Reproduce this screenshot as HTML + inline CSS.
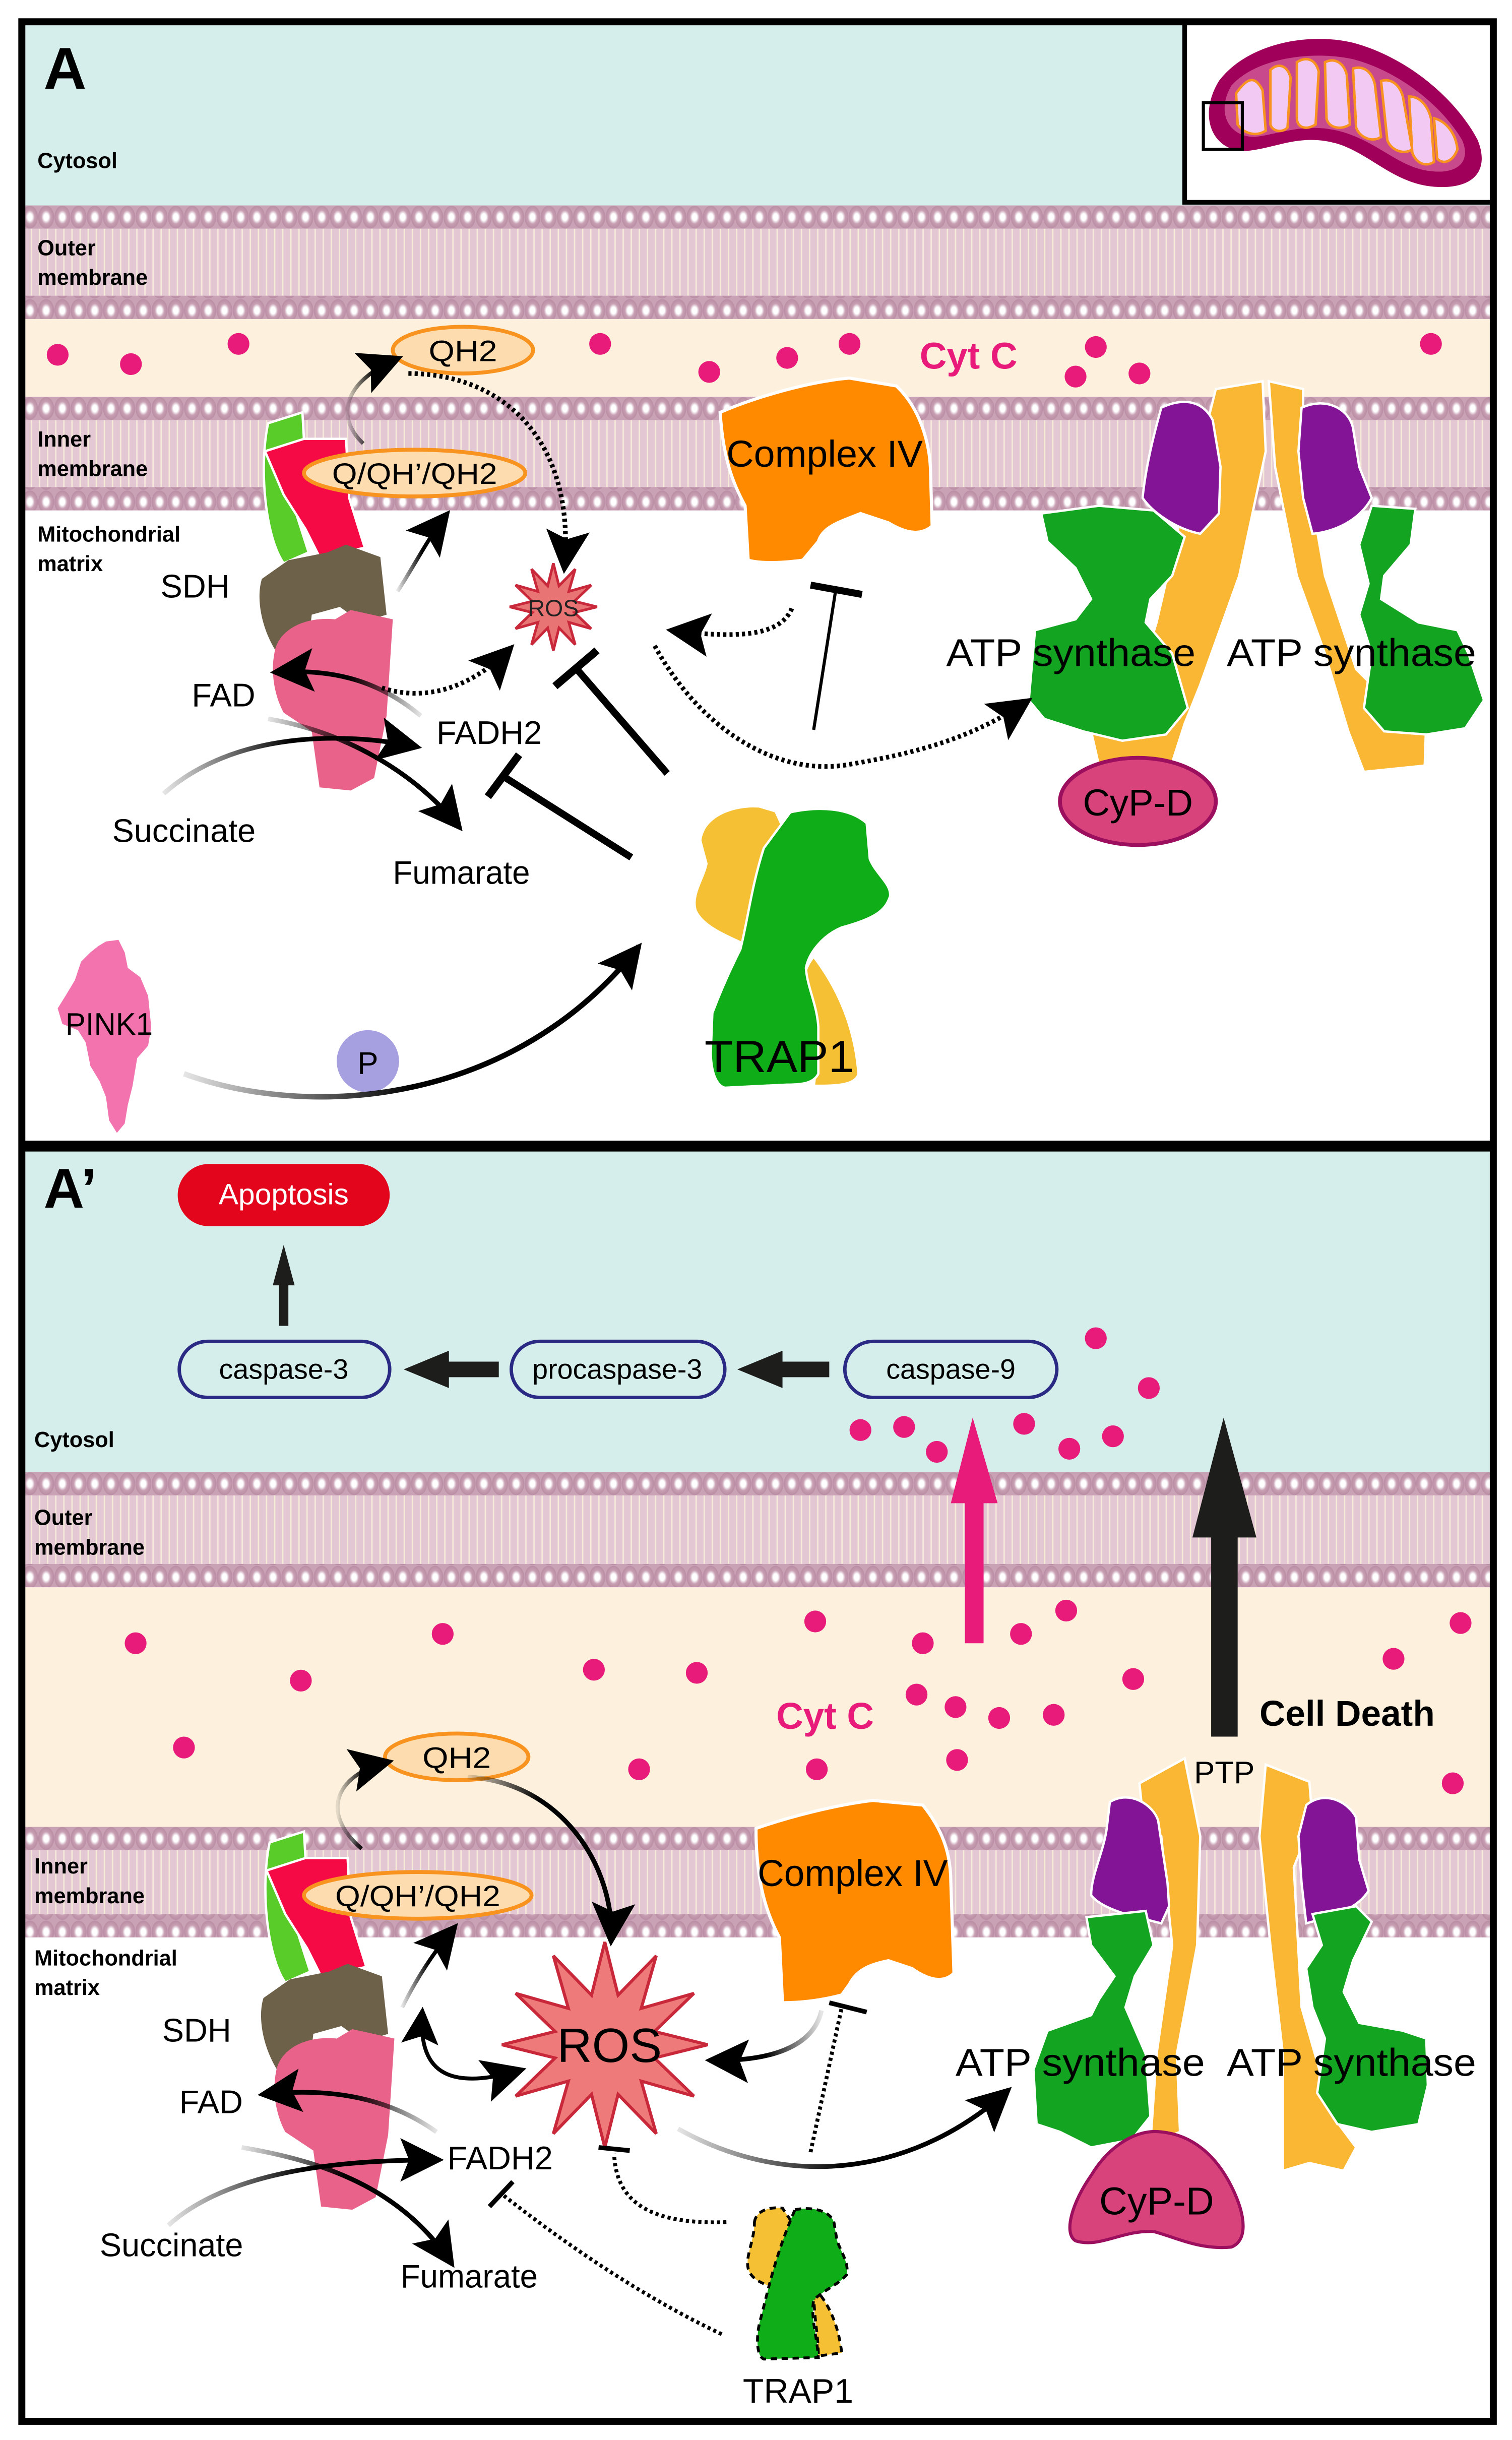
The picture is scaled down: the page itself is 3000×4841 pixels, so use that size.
<!DOCTYPE html>
<html><head><meta charset="utf-8"><style>
html,body{margin:0;padding:0;background:#fff;}
svg{display:block;}
text{font-family:"Liberation Sans",sans-serif;}
</style></head><body>
<svg width="3000" height="4841" viewBox="0 0 970 1568" preserveAspectRatio="none" xmlns="http://www.w3.org/2000/svg">
<defs>
<radialGradient id="hg" cx="50%" cy="50%" r="50%">
<stop offset="0" stop-color="#ffffff"/><stop offset="0.3" stop-color="#ffffff"/><stop offset="0.6" stop-color="#c89fb3"/><stop offset="1" stop-color="#b98da3"/>
</radialGradient>
<pattern id="heads" x="0" y="0" width="10.4" height="15" patternUnits="userSpaceOnUse">
<rect width="10.4" height="15" fill="#c9a2b5"/>
<ellipse cx="5.2" cy="7.5" rx="5.1" ry="7.3" fill="url(#hg)"/>
</pattern>
<pattern id="tails" x="0" y="0" width="5.2" height="20" patternUnits="userSpaceOnUse">
<rect width="5.2" height="20" fill="#e3c8d4"/>
<line x1="1" y1="0" x2="1" y2="20" stroke="#f6ead9" stroke-width="0.9"/>
</pattern>
<marker id="ah" viewBox="0 0 10 10" refX="9" refY="5" markerWidth="36" markerHeight="28" markerUnits="userSpaceOnUse" orient="auto">
<path d="M0,0 L10,5 L0,10 L2,5 z" fill="#000"/>
</marker>
<marker id="ahs" viewBox="0 0 10 10" refX="9" refY="5" markerWidth="30" markerHeight="24" markerUnits="userSpaceOnUse" orient="auto-start-reverse">
<path d="M0,0 L10,5 L0,10 L2,5 z" fill="#000"/>
</marker>
<linearGradient id="fadeR" x1="0" y1="0" x2="1" y2="0"><stop offset="0" stop-color="#000" stop-opacity="0.1"/><stop offset="0.5" stop-color="#000"/></linearGradient>
<linearGradient id="fadeL" x1="1" y1="0" x2="0" y2="0"><stop offset="0" stop-color="#000" stop-opacity="0.1"/><stop offset="0.5" stop-color="#000"/></linearGradient>
<polygon id="star" points="0,-100 12.9,-48.3 50,-86.6 35.4,-35.4 86.6,-50 48.3,-12.9 100,0 48.3,12.9 86.6,50 35.4,35.4 50,86.6 12.9,48.3 0,100 -12.9,48.3 -50,86.6 -35.4,35.4 -86.6,50 -48.3,12.9 -100,0 -48.3,-12.9 -86.6,-50 -35.4,-35.4 -50,-86.6 -12.9,-48.3"/>
</defs>

<rect width="970" height="1568" fill="#fff"/>

<rect x="14" y="14" width="944" height="118" fill="#d6eeeb"/>
<rect x="14" y="205" width="944" height="50" fill="#fdf1dd"/>
<g transform="translate(14,132)"><rect width="944" height="15" fill="url(#heads)"/><rect y="15" width="944" height="43" fill="url(#tails)"/><rect y="58" width="944" height="15" fill="url(#heads)"/></g>
<g transform="translate(14,255)"><rect width="944" height="15" fill="url(#heads)"/><rect y="15" width="944" height="43" fill="url(#tails)"/><rect y="58" width="944" height="15" fill="url(#heads)"/></g>

<rect x="760" y="14" width="198" height="116" fill="#fff" stroke="#000" stroke-width="3"/>
<path d="M782,52 C800,28 840,20 870,28 C905,38 935,65 948,90 C956,110 945,122 920,120 C895,118 880,100 860,93 C835,85 820,95 800,97 C778,98 768,75 782,52 Z" fill="#a0005a"/>
<path d="M790,55 C805,38 840,32 868,38 C898,46 925,68 938,90 C944,104 935,112 918,110 C898,108 885,92 862,85 C838,78 822,86 805,88 C788,88 780,72 790,55 Z" fill="#c84a8c"/>
<g stroke="#f7931e" stroke-width="1.6" fill="#f2c9f2">
<path d="M793,60 C800,50 805,48 810,58 L812,84 C806,88 798,86 794,80 Z"/>
<path d="M815,45 C820,40 826,42 828,50 L826,82 C822,86 816,84 815,80 Z"/>
<path d="M832,40 C838,36 844,38 846,46 L844,80 C838,84 832,82 832,76 Z"/>
<path d="M850,40 C856,37 862,40 864,48 L866,80 C860,84 852,82 851,76 Z"/>
<path d="M868,44 C875,42 880,46 882,54 L886,88 C880,92 872,88 870,82 Z"/>
<path d="M886,52 C893,50 898,55 900,62 L906,96 C900,100 892,96 890,90 Z"/>
<path d="M904,62 C911,62 916,68 918,76 L920,104 C914,108 908,104 906,98 Z"/>
<path d="M920,76 C928,78 934,86 935,96 C932,104 926,106 922,102 Z"/>
</g>
<rect x="772" y="66" width="25" height="30" fill="none" stroke="#000" stroke-width="2"/>

<text x="28" y="57" font-size="38" font-weight="bold">A</text>
<text x="24" y="108" font-size="14" font-weight="bold">Cytosol</text>
<text x="24" y="164" font-size="14" font-weight="bold">Outer</text>
<text x="24" y="183" font-size="14" font-weight="bold">membrane</text>
<text x="24" y="287" font-size="14" font-weight="bold">Inner</text>
<text x="24" y="306" font-size="14" font-weight="bold">membrane</text>
<text x="24" y="348" font-size="14" font-weight="bold">Mitochondrial</text>
<text x="24" y="367" font-size="14" font-weight="bold">matrix</text>

<g fill="#e81a7a">
<circle cx="37" cy="228" r="7"/><circle cx="84" cy="234" r="7"/><circle cx="153" cy="221" r="7"/><circle cx="385" cy="221" r="7"/>
<circle cx="455" cy="239" r="7"/><circle cx="505" cy="230" r="7"/><circle cx="545" cy="221" r="7"/><circle cx="690" cy="242" r="7"/>
<circle cx="703" cy="223" r="7"/><circle cx="731" cy="240" r="7"/><circle cx="918" cy="221" r="7"/>
</g>
<text x="590" y="237" font-size="24" font-weight="bold" fill="#e81a7a">Cyt C</text>

<g id="sdh">
<path d="M172,272 L194,265 L196,300 L190,330 L198,355 L182,362 C170,345 166,300 172,272 Z" fill="#59cc2a" stroke="#fff" stroke-width="1.5"/>
<path d="M170,290 L195,282 L222,282 L224,320 L234,352 L205,358 L196,340 L182,318 Z" fill="#f50a45" stroke="#fff" stroke-width="1.5"/>
<path d="M168,372 L185,360 L210,355 L222,350 L244,358 L248,395 L232,400 L218,390 L200,395 L198,412 L178,420 C168,405 164,385 168,372 Z" fill="#6e6149"/>
<path d="M176,420 C178,405 195,396 215,398 L225,392 L252,398 L248,460 L240,500 L225,508 L205,506 L200,470 L182,458 C175,445 174,430 176,420 Z" fill="#e9628a"/>
</g>

<ellipse cx="297" cy="225" rx="45" ry="15" fill="#fddcb0" stroke="#f7931e" stroke-width="2.5"/>
<text x="297" y="232" font-size="19" text-anchor="middle" textLength="44" lengthAdjust="spacingAndGlyphs">QH2</text>
<ellipse cx="266" cy="304" rx="71" ry="15" fill="#fddcb0" stroke="#f7931e" stroke-width="2.5"/>
<text x="266" y="311" font-size="19" text-anchor="middle" textLength="106" lengthAdjust="spacingAndGlyphs">Q/QH’/QH2</text>

<use href="#star" transform="translate(355,390) scale(0.28)" fill="#e87474" stroke="#c8283a" stroke-width="6"/>
<text x="355" y="396" font-size="15" text-anchor="middle" fill="#222">ROS</text>

<path d="M462,265 C485,255 520,245 545,243 L575,248 C590,262 597,285 597,305 L598,338 C590,345 580,342 570,336 L552,330 C540,335 528,338 525,348 L515,360 C500,362 488,362 480,360 L478,325 C470,310 464,295 462,265 Z" fill="#ff8a00" stroke="#fff" stroke-width="2"/>
<text x="529" y="300" font-size="24" text-anchor="middle" textLength="126" lengthAdjust="spacingAndGlyphs">Complex IV</text>

<g stroke="#fff" stroke-width="1.5">
<path d="M780,250 L810,245 L812,290 L795,370 L770,440 L760,465 L752,490 L705,492 L700,470 L725,455 L742,400 L765,300 L775,270 Z" fill="#f9b733"/>
<path d="M814,245 L836,250 L836,290 L850,370 L870,430 L895,455 L915,462 L914,492 L875,496 L865,470 L850,420 L832,370 L818,300 Z" fill="#f9b733"/>
<path d="M745,262 C760,255 772,258 778,270 L783,300 L782,330 L770,343 C755,340 740,330 733,320 C735,300 740,280 745,262 Z" fill="#831495"/>
<path d="M835,262 C850,255 865,262 868,275 L872,300 L880,320 C872,335 855,342 842,343 L836,320 L833,290 Z" fill="#831495"/>
<path d="M668,330 L705,325 L740,328 L760,345 L752,370 L738,385 L735,400 L752,420 L762,455 L748,472 L720,476 L695,470 L670,462 L660,450 L664,405 L690,398 L700,385 L690,365 L672,348 Z" fill="#13a522"/>
<path d="M880,325 L908,327 L905,350 L888,370 L886,385 L910,400 L935,405 L942,420 L952,450 L940,468 L915,472 L888,470 L875,455 L880,420 L872,395 L878,375 L872,350 Z" fill="#13a522"/>
</g>
<text x="687" y="428" font-size="25" text-anchor="middle" textLength="160" lengthAdjust="spacingAndGlyphs">ATP synthase</text>
<text x="867" y="428" font-size="25" text-anchor="middle" textLength="160" lengthAdjust="spacingAndGlyphs">ATP synthase</text>
<ellipse cx="730" cy="515" rx="50" ry="28" fill="#d8437b" stroke="#9c0f5f" stroke-width="2.5"/>
<text x="730" y="524" font-size="24" text-anchor="middle">CyP-D</text>

<path d="M450,540 C452,525 470,518 487,519 L497,522 L502,533 C493,550 485,575 480,607 C465,600 452,595 447,585 C444,575 452,565 454,555 Z" fill="#f5c033"/>
<path d="M522,616 C540,640 548,665 550,690 C548,697 535,697 523,697 C525,680 525,660 520,645 C515,635 515,625 522,616 Z" fill="#f5c033"/>
<path d="M507,522 C525,518 545,519 556,529 L558,552 C562,562 572,568 571,576 C568,585 562,590 540,596 C528,601 519,612 517,622 C518,635 524,645 525,660 L525,690 C522,696 515,697 505,697 L465,699 C458,697 456,685 456,676 L457,651 C463,635 470,620 475,610 C480,590 482,570 490,545 Z" fill="#0fad17" stroke="#fff" stroke-width="1.5"/>
<text x="452" y="689" font-size="29" textLength="96" lengthAdjust="spacingAndGlyphs">TRAP1</text>

<path d="M52,618 L58,612 L63,608 L68,605 L76,604 L80,612 L82,622 L90,628 L95,640 L97,660 L95,672 L88,680 L85,698 L82,710 L80,722 L75,728 L70,720 L68,705 L64,695 L58,685 L55,670 L50,662 L40,658 L37,648 L42,640 L48,630 Z" fill="#f273ae"/>
<text x="70" y="665" font-size="20" text-anchor="middle" textLength="56" lengthAdjust="spacingAndGlyphs">PINK1</text>
<ellipse cx="236" cy="682" rx="20" ry="20" fill="#a7a0e0"/>
<text x="236" y="690" font-size="20" text-anchor="middle">P</text>

<text x="103" y="384" font-size="21">SDH</text>
<text x="123" y="454" font-size="21">FAD</text>
<text x="280" y="478" font-size="21">FADH2</text>
<text x="72" y="541" font-size="21" textLength="92" lengthAdjust="spacingAndGlyphs">Succinate</text>
<text x="252" y="568" font-size="21" textLength="88" lengthAdjust="spacingAndGlyphs">Fumarate</text>

<g fill="none">
<path d="M233,285 C215,268 220,245 256,230" stroke="url(#fadeR)" stroke-width="2.5" marker-end="url(#ah)"/>
<path d="M255,380 C265,365 275,345 287,330" stroke="url(#fadeR)" stroke-width="2.5" marker-end="url(#ah)"/>
<path d="M262,240 C320,240 370,280 362,366" stroke="#000" stroke-width="3" stroke-dasharray="2,2" marker-end="url(#ah)"/>
<path d="M270,460 C240,435 210,430 176,432" stroke="url(#fadeL)" stroke-width="3" marker-end="url(#ah)"/>
<path d="M245,442 C275,452 305,440 328,416" stroke="#000" stroke-width="3" stroke-dasharray="2,2" marker-end="url(#ah)"/>
<path d="M105,510 C150,470 220,470 268,480" stroke="url(#fadeR)" stroke-width="3" marker-end="url(#ah)"/>
<path d="M172,462 C220,470 265,495 295,532" stroke="url(#fadeR)" stroke-width="3" marker-end="url(#ah)"/>
<path d="M118,690 C200,720 330,710 410,608" stroke="url(#fadeR)" stroke-width="3.5" marker-end="url(#ah)"/>
<path d="M508,391 C500,410 470,410 430,405" stroke="#000" stroke-width="3" stroke-dasharray="2,2" marker-end="url(#ah)"/>
<path d="M420,415 C450,470 500,500 546,491 C600,482 630,470 660,450" stroke="#000" stroke-width="3" stroke-dasharray="2,2" marker-end="url(#ah)"/>
</g>
<g stroke="#000">
<line x1="522" y1="469" x2="536" y2="380" stroke-width="2"/>
<line x1="520" y1="376" x2="553" y2="382" stroke-width="4.5"/>
<line x1="428" y1="497" x2="370" y2="430" stroke-width="4.5"/>
<line x1="356" y1="441" x2="383" y2="418" stroke-width="5"/>
<line x1="405" y1="551" x2="323" y2="499" stroke-width="4.5"/>
<line x1="313" y1="512" x2="333" y2="485" stroke-width="5"/>
</g>

<rect x="14" y="740" width="944" height="206" fill="#d6eeeb"/>
<rect x="14" y="1020" width="944" height="154" fill="#fdf1dd"/>
<g transform="translate(14,946)"><rect width="944" height="15" fill="url(#heads)"/><rect y="15" width="944" height="44" fill="url(#tails)"/><rect y="59" width="944" height="15" fill="url(#heads)"/></g>
<g transform="translate(14,1174)"><rect width="944" height="15" fill="url(#heads)"/><rect y="15" width="944" height="41" fill="url(#tails)"/><rect y="56" width="944" height="15" fill="url(#heads)"/></g>

<text x="28" y="776" font-size="36" font-weight="bold">A’</text>
<text x="22" y="930" font-size="14" font-weight="bold">Cytosol</text>
<text x="22" y="980" font-size="14" font-weight="bold">Outer</text>
<text x="22" y="999" font-size="14" font-weight="bold">membrane</text>
<text x="22" y="1204" font-size="14" font-weight="bold">Inner</text>
<text x="22" y="1223" font-size="14" font-weight="bold">membrane</text>
<text x="22" y="1263" font-size="14" font-weight="bold">Mitochondrial</text>
<text x="22" y="1282" font-size="14" font-weight="bold">matrix</text>

<rect x="114" y="748" width="136" height="40" rx="20" fill="#e3051b"/>
<text x="182" y="774" font-size="19" fill="#fff" text-anchor="middle">Apoptosis</text>
<rect x="115" y="862" width="135" height="36" rx="18" fill="#d6eeeb" stroke="#2a2a85" stroke-width="2.2"/>
<text x="182" y="886" font-size="18" text-anchor="middle">caspase-3</text>
<rect x="328" y="862" width="137" height="36" rx="18" fill="#d6eeeb" stroke="#2a2a85" stroke-width="2.2"/>
<text x="396" y="886" font-size="18" text-anchor="middle">procaspase-3</text>
<rect x="542" y="862" width="136" height="36" rx="18" fill="#d6eeeb" stroke="#2a2a85" stroke-width="2.2"/>
<text x="610" y="886" font-size="18" text-anchor="middle">caspase-9</text>
<g fill="#1d1d1b">
<path d="M179,852 L179,826 L175,826 L182,800 L189,826 L185,826 L185,852 Z"/>
<path d="M320,875 L288,875 L288,868 L259,880 L288,892 L288,885 L320,885 Z"/>
<path d="M532,875 L502,875 L502,868 L473,880 L502,892 L502,885 L532,885 Z"/>
<path d="M777,1116 L777,988 L765,988 L785,911 L806,988 L794,988 L794,1116 Z"/>
</g>
<path d="M619,1056 L619,966 L610,966 L624,911 L640,966 L631,966 L631,1056 Z" fill="#e81a7a"/>
<text x="808" y="1109" font-size="23" font-weight="bold">Cell Death</text>
<text x="766" y="1146" font-size="20">PTP</text>
<text x="498" y="1111" font-size="24" font-weight="bold" fill="#e81a7a">Cyt C</text>

<g fill="#e81a7a">
<circle cx="703" cy="860" r="7"/><circle cx="737" cy="892" r="7"/><circle cx="552" cy="919" r="7"/><circle cx="580" cy="917" r="7"/><circle cx="601" cy="933" r="7"/><circle cx="657" cy="915" r="7"/><circle cx="686" cy="931" r="7"/><circle cx="714" cy="923" r="7"/>
<circle cx="87" cy="1056" r="7"/><circle cx="193" cy="1080" r="7"/><circle cx="284" cy="1050" r="7"/><circle cx="381" cy="1073" r="7"/><circle cx="447" cy="1075" r="7"/><circle cx="523" cy="1042" r="7"/><circle cx="592" cy="1056" r="7"/><circle cx="655" cy="1050" r="7"/><circle cx="684" cy="1035" r="7"/><circle cx="727" cy="1079" r="7"/><circle cx="894" cy="1066" r="7"/><circle cx="937" cy="1043" r="7"/>
<circle cx="118" cy="1123" r="7"/><circle cx="410" cy="1137" r="7"/><circle cx="524" cy="1137" r="7"/><circle cx="588" cy="1089" r="7"/><circle cx="613" cy="1097" r="7"/><circle cx="641" cy="1104" r="7"/><circle cx="676" cy="1102" r="7"/><circle cx="614" cy="1131" r="7"/><circle cx="932" cy="1146" r="7"/>
</g>

<use href="#sdh" transform="translate(1,912)"/>
<ellipse cx="293" cy="1129" rx="46" ry="15" fill="#fddcb0" stroke="#f7931e" stroke-width="2.5"/>
<text x="293" y="1136" font-size="19" text-anchor="middle" textLength="44" lengthAdjust="spacingAndGlyphs">QH2</text>
<ellipse cx="268" cy="1218" rx="73" ry="15" fill="#fddcb0" stroke="#f7931e" stroke-width="2.5"/>
<text x="268" y="1225" font-size="19" text-anchor="middle" textLength="106" lengthAdjust="spacingAndGlyphs">Q/QH’/QH2</text>

<use href="#star" transform="translate(388,1314) scale(0.66)" fill="#ef7a7a" stroke="#c8283a" stroke-width="3"/>
<text x="391" y="1325" font-size="31" text-anchor="middle">ROS</text>

<path d="M485,1175 C505,1168 535,1160 560,1157 L592,1160 C604,1175 610,1190 610,1210 L612,1268 C605,1275 595,1272 585,1265 L570,1260 C560,1262 550,1265 545,1275 L540,1282 C525,1286 512,1287 502,1287 L500,1245 C492,1230 485,1210 485,1175 Z" fill="#ff8a00" stroke="#fff" stroke-width="2"/>
<text x="547" y="1212" font-size="24" text-anchor="middle" textLength="122" lengthAdjust="spacingAndGlyphs">Complex IV</text>

<g stroke="#fff" stroke-width="1.5">
<path d="M731,1146 L760,1130 L770,1180 L768,1250 L755,1320 L757,1370 L738,1378 L742,1320 L752,1250 L745,1180 L733,1165 Z" fill="#f9b733"/>
<path d="M812,1134 L840,1145 L842,1170 L830,1200 L835,1290 L855,1360 L870,1380 L862,1395 L840,1390 L823,1395 L823,1320 L815,1250 L808,1180 Z" fill="#f9b733"/>
<path d="M712,1158 C725,1150 740,1160 743,1170 L749,1210 L750,1225 L745,1236 C730,1232 708,1228 700,1218 C700,1205 708,1190 710,1175 Z" fill="#831495"/>
<path d="M838,1160 C850,1150 865,1158 870,1168 L872,1195 L878,1215 C870,1228 852,1232 838,1236 L835,1210 L833,1180 Z" fill="#831495"/>
<path d="M697,1232 L735,1228 L740,1250 L728,1270 L722,1290 L735,1320 L738,1360 L726,1375 L700,1380 L680,1370 L665,1365 L663,1330 L672,1305 L700,1295 L705,1285 L715,1270 L700,1250 Z" fill="#13a522"/>
<path d="M842,1230 L870,1225 L880,1235 L868,1260 L862,1280 L872,1300 L900,1305 L915,1310 L916,1340 L910,1365 L880,1370 L858,1365 L845,1345 L850,1310 L842,1290 L838,1265 L848,1250 Z" fill="#13a522"/>
</g>
<text x="693" y="1334" font-size="25" text-anchor="middle" textLength="160" lengthAdjust="spacingAndGlyphs">ATP synthase</text>
<text x="867" y="1334" font-size="25" text-anchor="middle" textLength="160" lengthAdjust="spacingAndGlyphs">ATP synthase</text>
<path d="M700,1398 C712,1378 730,1368 745,1370 C765,1372 780,1385 790,1405 C800,1425 800,1440 790,1444 C770,1446 755,1438 740,1434 C720,1433 705,1445 690,1440 C682,1435 688,1415 700,1398 Z" fill="#d8437b" stroke="#9c0f5f" stroke-width="2"/>
<text x="742" y="1423" font-size="25" text-anchor="middle">CyP-D</text>

<g stroke="#000" stroke-width="1.8" stroke-dasharray="4,3">
<path d="M484,1428 C485,1420 495,1418 502,1419 L508,1428 C503,1440 500,1455 497,1470 C490,1468 482,1465 480,1458 C478,1450 484,1440 484,1428 Z" fill="#f5c033"/>
<path d="M522,1470 C532,1480 538,1495 540,1512 L525,1514 C525,1500 522,1490 522,1470 Z" fill="#f5c033"/>
<path d="M510,1420 C520,1418 532,1420 535,1428 L537,1440 C540,1448 545,1455 543,1462 C538,1468 528,1472 522,1478 C520,1490 524,1500 525,1515 L490,1516 C485,1514 485,1500 488,1490 C492,1475 497,1450 510,1420 Z" fill="#0fad17"/>
</g>
<text x="512" y="1544" font-size="22" text-anchor="middle">TRAP1</text>

<text x="104" y="1312" font-size="21">SDH</text>
<text x="115" y="1358" font-size="21">FAD</text>
<text x="287" y="1394" font-size="21">FADH2</text>
<text x="64" y="1450" font-size="21" textLength="92" lengthAdjust="spacingAndGlyphs">Succinate</text>
<text x="257" y="1470" font-size="21" textLength="88" lengthAdjust="spacingAndGlyphs">Fumarate</text>

<g fill="none">
<path d="M232,1188 C205,1165 215,1140 250,1132" stroke="url(#fadeR)" stroke-width="2.5" marker-end="url(#ah)"/>
<path d="M300,1142 C360,1145 395,1200 392,1248" stroke="url(#fadeR)" stroke-width="3" marker-end="url(#ah)"/>
<path d="M258,1290 C268,1270 278,1255 292,1238" stroke="url(#fadeR)" stroke-width="2.5" marker-end="url(#ah)"/>
<path d="M280,1370 C245,1345 205,1342 168,1346" stroke="url(#fadeL)" stroke-width="3" marker-end="url(#ah)"/>
<path d="M271,1292 C268,1330 285,1345 335,1330" stroke="#000" stroke-width="2.5" marker-start="url(#ahs)" marker-end="url(#ah)"/>
<path d="M108,1430 C150,1392 230,1388 282,1388" stroke="url(#fadeR)" stroke-width="3" marker-end="url(#ah)"/>
<path d="M155,1380 C215,1390 260,1410 290,1455" stroke="url(#fadeR)" stroke-width="3" marker-end="url(#ah)"/>
<path d="M527,1292 C522,1315 495,1325 455,1324" stroke="url(#fadeL)" stroke-width="3" marker-end="url(#ah)"/>
<path d="M435,1368 C510,1410 590,1395 647,1343" stroke="url(#fadeR)" stroke-width="3" marker-end="url(#ah)"/>
<path d="M466,1428 C410,1430 395,1410 394,1384" stroke="#000" stroke-width="2.5" stroke-dasharray="2,2"/>
<path d="M463,1500 C410,1475 360,1440 322,1410" stroke="#000" stroke-width="2.5" stroke-dasharray="2,2"/>
<path d="M520,1383 L540,1290" stroke="#000" stroke-width="2.5" stroke-dasharray="2,2"/>
</g>
<g stroke="#000" stroke-width="3">
<line x1="384" y1="1380" x2="404" y2="1382"/>
<line x1="314" y1="1418" x2="329" y2="1402"/>
<line x1="532" y1="1287" x2="556" y2="1293"/>
</g>

<rect x="14" y="14" width="944" height="1542" fill="none" stroke="#000" stroke-width="4.5"/>
<rect x="14" y="733" width="944" height="7" fill="#000"/>
</svg>
</body></html>
